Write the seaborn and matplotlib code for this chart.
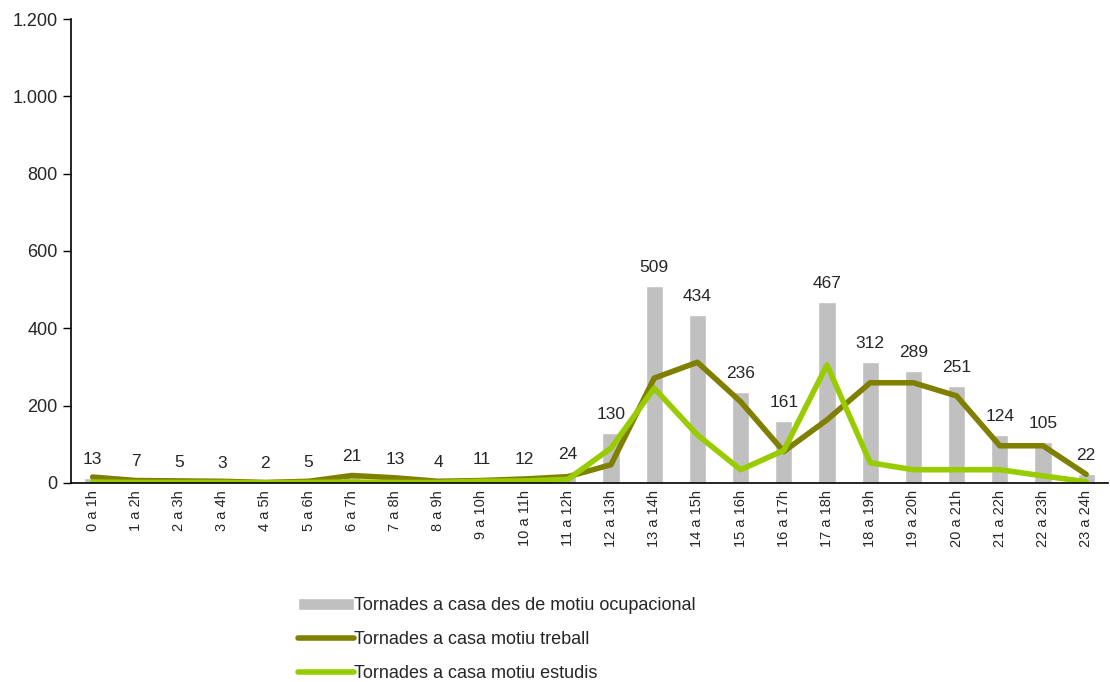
import numpy as np
import pandas as pd
import matplotlib
matplotlib.use("Agg")
import matplotlib.pyplot as plt
import seaborn as sns
from matplotlib.ticker import FixedLocator, FuncFormatter

# hour slots
franges = ['0 a 1h', '1 a 2h', '2 a 3h', '3 a 4h', '4 a 5h', '5 a 6h', '6 a 7h',
           '7 a 8h', '8 a 9h', '9 a 10h', '10 a 11h', '11 a 12h', '12 a 13h',
           '13 a 14h', '14 a 15h', '15 a 16h', '16 a 17h', '17 a 18h', '18 a 19h',
           '19 a 20h', '20 a 21h', '21 a 22h', '22 a 23h', '23 a 24h']

# bars: returns home from occupational reason
ocupacional = [13, 7, 5, 3, 2, 5, 21, 13, 4, 11, 12, 24, 130, 509, 434, 236,
               161, 467, 312, 289, 251, 124, 105, 22]
# lines
treball = [15, 6, 5, 4, 1, 4, 19, 13, 4, 6, 10, 16, 47, 271, 312, 210,
           81, 163, 259, 259, 225, 96, 96, 22]
estudis = [2, 1, 1, 1, 0, 1, 2, 1, 1, 4, 5, 9, 90, 245, 124, 34,
           84, 305, 52, 34, 34, 34, 18, 3]

label_bar = 'Tornades a casa des de motiu ocupacional'
label_treball = 'Tornades a casa motiu treball'
label_estudis = 'Tornades a casa motiu estudis'

df = pd.DataFrame({'franja': franges, 'ocupacional': ocupacional,
                   'treball': treball, 'estudis': estudis})
df['pos'] = np.arange(len(df))

sns.set_style('white')
plt.rcParams['font.family'] = ['Liberation Sans', 'DejaVu Sans']
plt.rcParams['font.size'] = 10

fig = plt.figure(figsize=(11.1, 6.82), dpi=100)
ax = fig.add_axes([0.064, 0.292, 0.934, 0.680])

sns.barplot(data=df, x='pos', y='ocupacional', color='#C0C0C0', width=0.4,
            saturation=1, ax=ax, label=label_bar)
sns.lineplot(data=df, x='pos', y='treball', color='#808000', linewidth=4,
             ax=ax, label=label_treball)
sns.lineplot(data=df, x='pos', y='estudis', color='#99CC00', linewidth=4,
             ax=ax, label=label_estudis)
ax.legend_.remove()

# value labels above bars
for i, v in enumerate(ocupacional):
    ax.annotate(str(v), (i, v), xytext=(0, 8), textcoords='offset points',
                ha='center', va='bottom', fontsize=12.5)

ax.set_xlim(-0.5, len(franges) - 0.5)
ax.set_ylim(0, 1200)
ax.set_yticks(np.arange(0, 1201, 200))
ax.yaxis.set_major_formatter(FuncFormatter(lambda v, p: f'{int(v):,}'.replace(',', '.')))

ax.set_xticks(df['pos'])
ax.set_xticklabels(franges, rotation=90, va='top')
ax.xaxis.set_minor_locator(FixedLocator(np.arange(-0.5, len(franges), 1)))
ax.tick_params(axis='x', which='major', length=0, pad=5, labelsize=10.5)
ax.tick_params(axis='x', which='minor', length=6, width=1, color='black', direction='out')
ax.tick_params(axis='y', length=6, width=1, color='black', direction='out', labelsize=13, left=True)
ax.set_xlabel('')
ax.set_ylabel('')

for s in ['top', 'right']:
    ax.spines[s].set_visible(False)
for s in ['left', 'bottom']:
    ax.spines[s].set_color('black')
    ax.spines[s].set_linewidth(1.2)

handles, labels = ax.get_legend_handles_labels()
order = [labels.index(label_bar), labels.index(label_treball), labels.index(label_estudis)]
fig.legend([handles[i] for i in order], [labels[i] for i in order],
           loc='upper left', bbox_to_anchor=(0.262, 0.135), bbox_transform=fig.transFigure,
           frameon=False, fontsize=13, handlelength=3.1, handletextpad=0.0,
           labelspacing=0.95, borderaxespad=0)

fig.savefig('out.png', dpi=100)
